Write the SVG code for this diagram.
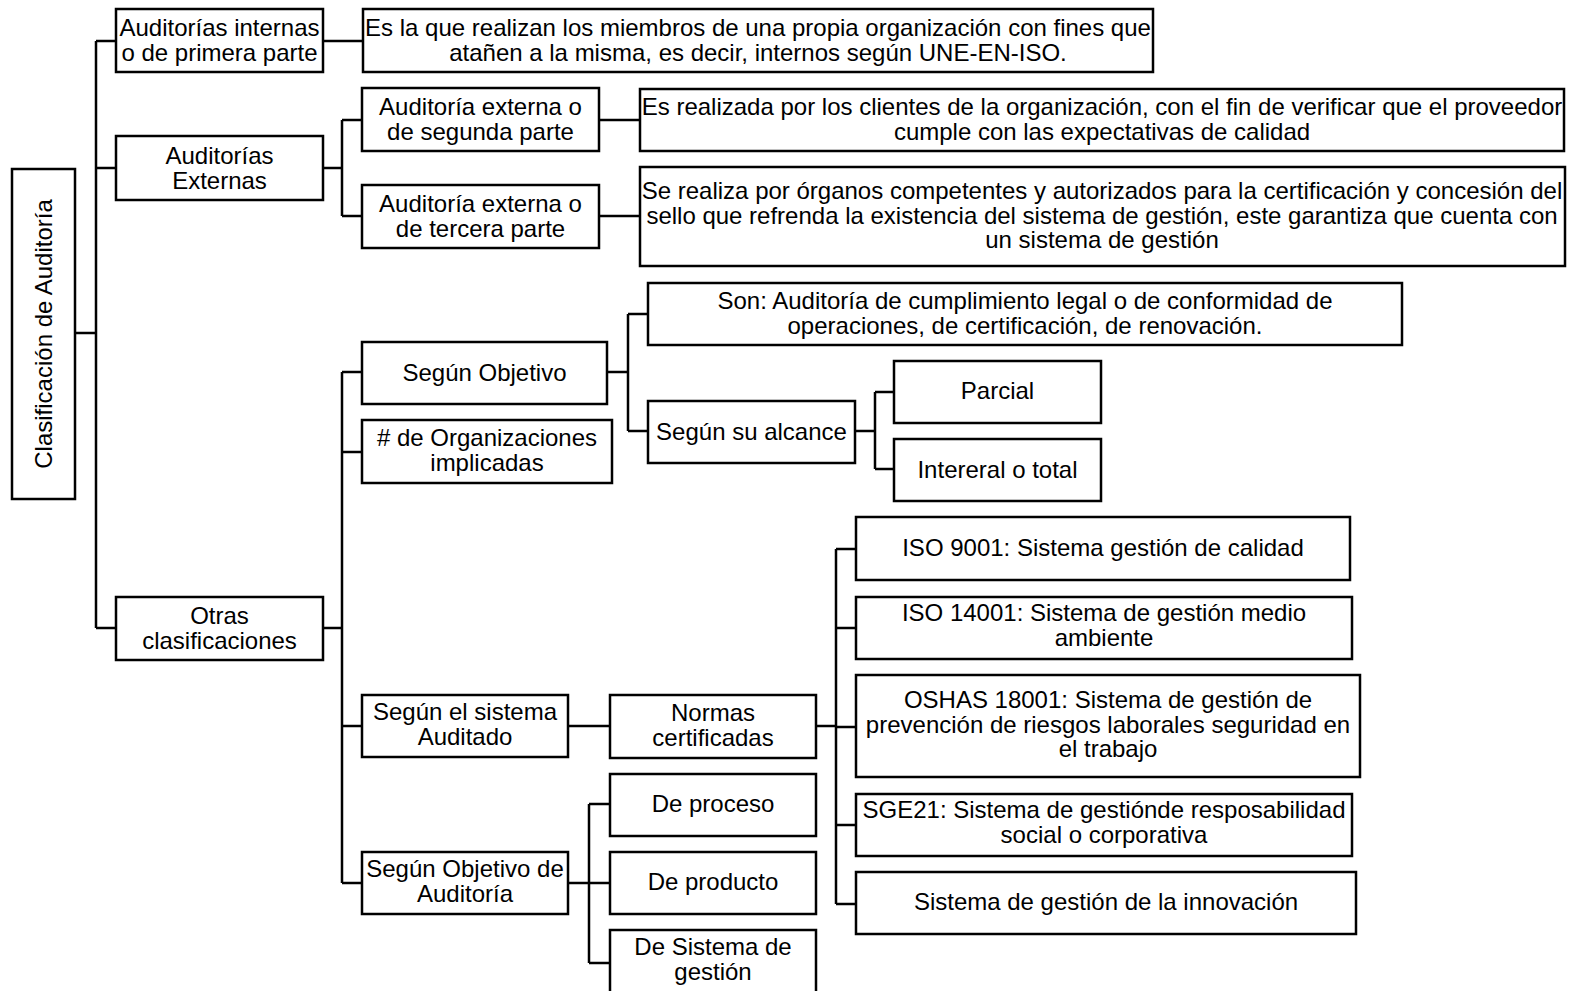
<svg xmlns="http://www.w3.org/2000/svg" width="1572" height="991" viewBox="0 0 1572 991">
<style>
rect{fill:#fff;stroke:#000;stroke-width:2.5}
text{font-family:"Liberation Sans",Arial,sans-serif;font-size:24px;fill:#000;text-anchor:middle}
.c path{fill:none;stroke:#000;stroke-width:2.5}
</style>
<rect x="0" y="0" width="1572" height="991" style="stroke:none"/>
<g class="c" id="connectors">
<path d="M75,333H96M96,41V628M96,41H116M96,168H116M96,628H116"/>
<path d="M323,41H363"/>
<path d="M323,168H342M342,120V216M342,120H362M342,216H362"/>
<path d="M599,120H640M599,216H640"/>
<path d="M323,628H342M342,372V883M342,372H362M342,452H362M342,726H362M342,883H362"/>
<path d="M607,372H628M628,314V431M628,314H648M628,431H648"/>
<path d="M855,431H875M875,392V469M875,392H894M875,469H894"/>
<path d="M568,726H610"/>
<path d="M816,726H836M836,549V904M836,549H856M836,628H856M836,727H856M836,825H856M836,904H856"/>
<path d="M568,883H589M589,804V963M589,804H610M589,883H610M589,963H610"/>
</g>
<g id="root"><rect x="12" y="169" width="63" height="330"/><text transform="translate(52,334) rotate(-90)">Clasificación de Auditoría</text></g>
<g id="internas"><rect x="116" y="9" width="207" height="63"/><text x="219.5" y="36">Auditorías internas</text><text x="219.5" y="61">o de primera parte</text></g>
<g id="desc1"><rect x="363" y="9" width="790" height="63"/><text x="758" y="36">Es la que realizan los miembros de una propia organización con fines que</text><text x="758" y="61">atañen a la misma, es decir, internos según UNE-EN-ISO.</text></g>
<g id="externas"><rect x="116" y="136" width="207" height="64"/><text x="219.5" y="163.5">Auditorías</text><text x="219.5" y="188.5">Externas</text></g>
<g id="segunda"><rect x="362" y="88" width="237" height="63"/><text x="480.5" y="115">Auditoría externa o</text><text x="480.5" y="140">de segunda parte</text></g>
<g id="desc2"><rect x="640" y="89" width="924" height="62"/><text x="1102" y="115">Es realizada por los clientes de la organización, con el fin de verificar que el proveedor</text><text x="1102" y="140">cumple con las expectativas de calidad</text></g>
<g id="tercera"><rect x="362" y="185" width="237" height="63"/><text x="480.5" y="212">Auditoría externa o</text><text x="480.5" y="237">de tercera parte</text></g>
<g id="desc3"><rect x="640" y="167" width="925" height="99"/><text x="1102" y="199">Se realiza por órganos competentes y autorizados para la certificación y concesión del</text><text x="1102" y="224">sello que refrenda la existencia del sistema de gestión, este garantiza que cuenta con</text><text x="1102" y="248">un sistema de gestión</text></g>
<g id="otras"><rect x="116" y="597" width="207" height="63"/><text x="219.5" y="623.5">Otras</text><text x="219.5" y="648.5">clasificaciones</text></g>
<g id="segunObjetivo"><rect x="362" y="342" width="245" height="62"/><text x="484.5" y="381">Según Objetivo</text></g>
<g id="organizaciones"><rect x="362" y="420" width="250" height="63"/><text x="487" y="446"># de Organizaciones</text><text x="487" y="471">implicadas</text></g>
<g id="son"><rect x="648" y="283" width="754" height="62"/><text x="1025" y="309">Son: Auditoría de cumplimiento legal o de conformidad de</text><text x="1025" y="334">operaciones, de certificación, de renovación.</text></g>
<g id="alcance"><rect x="648" y="401" width="207" height="62"/><text x="751.5" y="440">Según su alcance</text></g>
<g id="parcial"><rect x="894" y="361" width="207" height="62"/><text x="997.5" y="399">Parcial</text></g>
<g id="integral"><rect x="894" y="439" width="207" height="62"/><text x="997.5" y="478">Intereral o total</text></g>
<g id="sistemaAuditado"><rect x="362" y="695" width="206" height="62"/><text x="465" y="720">Según el sistema</text><text x="465" y="745">Auditado</text></g>
<g id="normas"><rect x="610" y="695" width="206" height="63"/><text x="713" y="721">Normas</text><text x="713" y="746">certificadas</text></g>
<g id="iso9001"><rect x="856" y="517" width="494" height="63"/><text x="1103" y="556">ISO 9001: Sistema gestión de calidad</text></g>
<g id="iso14001"><rect x="856" y="597" width="496" height="62"/><text x="1104" y="621">ISO 14001: Sistema de gestión medio</text><text x="1104" y="646">ambiente</text></g>
<g id="oshas"><rect x="856" y="675" width="504" height="102"/><text x="1108" y="708">OSHAS 18001: Sistema de gestión de</text><text x="1108" y="733">prevención de riesgos laborales seguridad en</text><text x="1108" y="757">el trabajo</text></g>
<g id="sge21"><rect x="856" y="794" width="496" height="62"/><text x="1104" y="818">SGE21: Sistema de gestiónde resposabilidad</text><text x="1104" y="843">social o corporativa</text></g>
<g id="innovacion"><rect x="856" y="872" width="500" height="62"/><text x="1106" y="910">Sistema de gestión de la innovación</text></g>
<g id="objetivoAuditoria"><rect x="362" y="852" width="206" height="62"/><text x="465" y="877">Según Objetivo de</text><text x="465" y="902">Auditoría</text></g>
<g id="proceso"><rect x="610" y="774" width="206" height="62"/><text x="713" y="812">De proceso</text></g>
<g id="producto"><rect x="610" y="852" width="206" height="62"/><text x="713" y="890">De producto</text></g>
<g id="sistemaGestion"><rect x="610" y="930" width="206" height="64"/><text x="713" y="955">De Sistema de</text><text x="713" y="980">gestión</text></g>
</svg>
